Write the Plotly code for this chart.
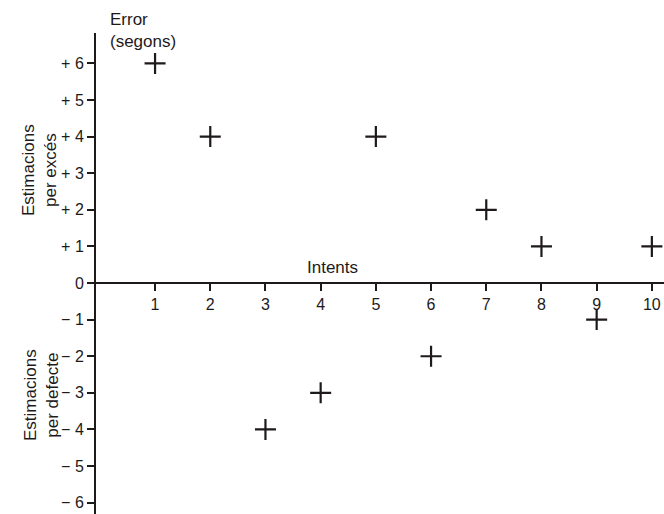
import plotly.graph_objects as go

intents = [1, 2, 3, 4, 5, 6, 7, 8, 9, 10]
errors = [6, 4, -4, -3, 4, -2, 2, 1, -1, 1]
y_tickvals = [6, 5, 4, 3, 2, 1, 0, -1, -2, -3, -4, -5, -6]
y_ticktext = ["+ 6", "+ 5", "+ 4", "+ 3", "+ 2", "+ 1", "0", "− 1", "− 2", "− 3", "− 4", "− 5", "− 6"]

x_range = [-0.07, 10.22]
y_range = [-6.31, 6.83]
ink = "#1e1a1a"
font = "Liberation Sans, Arial, sans-serif"

fig = go.Figure()
fig.add_trace(go.Scatter(
    x=intents, y=errors, mode="markers",
    marker=dict(symbol="cross-thin", size=15, line=dict(width=2.2, color=ink), color=ink),
    showlegend=False, hoverinfo="skip",
))

zero_frac = (0 - y_range[0]) / (y_range[1] - y_range[0])

fig.update_layout(
    width=664, height=514,
    margin=dict(l=96, r=0, t=33, b=0),
    paper_bgcolor="white", plot_bgcolor="white",
    font=dict(family=font, size=16, color=ink),
    xaxis=dict(
        range=x_range, showgrid=False, zeroline=False,
        anchor="free", position=zero_frac,
        showline=True, linecolor=ink, linewidth=2,
        ticks="outside", ticklen=7, tickwidth=2, tickcolor=ink,
        tickvals=intents, ticktext=[str(v) for v in intents],
        tickfont=dict(size=16, family=font, color=ink),
    ),
    yaxis=dict(
        range=y_range, showgrid=False, zeroline=False,
        showline=True, linecolor=ink, linewidth=2,
        ticks="outside", ticklen=7, tickwidth=2, tickcolor=ink,
        tickvals=y_tickvals, ticktext=y_ticktext,
        tickfont=dict(size=16, family=font, color=ink),
    ),
)

annos = [
    dict(text="Error<br>(segons)", x=108, y=8, align="left", xanchor="left", yanchor="top", textangle=0),
    dict(text="Intents", x=332, y=267, align="center", xanchor="center", yanchor="middle", textangle=0),
    dict(text="Estimacions<br>per excés", x=40, y=170, align="center", xanchor="center", yanchor="middle", textangle=-90),
    dict(text="Estimacions<br>per defecte", x=41, y=395, align="center", xanchor="center", yanchor="middle", textangle=-90),
]
for a in annos:
    fig.add_annotation(
        text=a["text"], xref="paper", yref="paper",
        x=(a["x"] - 96) / 568, y=1 - (a["y"] - 33) / 481,
        xanchor=a["xanchor"], yanchor=a["yanchor"], align=a["align"],
        textangle=a["textangle"], showarrow=False,
        font=dict(size=17, family=font, color=ink),
    )

fig.write_html(
    "out.html",
    config={"displayModeBar": False},
    post_script="document.body.style.margin='0';document.body.style.overflow='hidden';",
)
